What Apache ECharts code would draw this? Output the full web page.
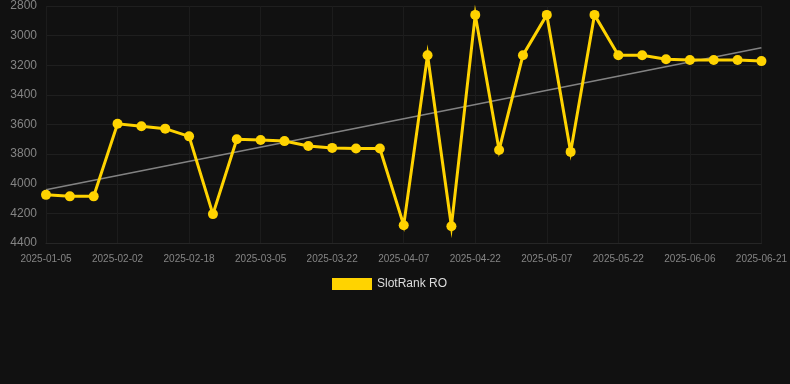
<!DOCTYPE html>
<html><head><meta charset="utf-8">
<script src="https://cdn.jsdelivr.net/npm/echarts@6/dist/echarts.min.js"></script>
<style>html,body{margin:0;padding:0;background:#111111;}#c{width:790px;height:384px;}</style>
</head><body><div id="c"></div>
<script>
const categories = ["2025-01-05","2025-01-14","2025-01-23","2025-02-02","2025-02-07","2025-02-13","2025-02-18","2025-02-23","2025-02-28","2025-03-05","2025-03-11","2025-03-16","2025-03-22","2025-03-27","2025-04-02","2025-04-07","2025-04-12","2025-04-17","2025-04-22","2025-04-27","2025-05-02","2025-05-07","2025-05-12","2025-05-17","2025-05-22","2025-05-27","2025-06-01","2025-06-06","2025-06-11","2025-06-16","2025-06-21"];
const rankValues = [4075,4085,4085,3595,3612,3628,3680,4205,3700,3705,3712,3745,3758,3762,3762,4280,3132,4287,2860,3772,3132,2860,3785,2860,3133,3132,3160,3165,3165,3165,3172];
const trendEnds = [4040, 3082];
const yTicks = {min: 2800, max: 4400, interval: 200};

const trendData = categories.map((c, i) => i === 0 ? trendEnds[0] : (i === categories.length - 1 ? trendEnds[1] : null));

const chart = echarts.init(document.getElementById('c'), null, {renderer: 'canvas'});
chart.setOption({
  backgroundColor: '#111111',
  animation: false,
  grid: {left: 46, right: 28, top: 6, bottom: 141, containLabel: false},
  legend: {
    data: ['SlotRank RO'], top: 273, left: 327,
    itemWidth: 40, itemHeight: 12, icon: 'rect', itemGap: 10,
    textStyle: {color: '#dddddd', fontSize: 12, fontFamily: 'Liberation Sans, Arial, sans-serif'}
  },
  xAxis: {
    type: 'category', data: categories, boundaryGap: false,
    axisLine: {show: true, lineStyle: {color: '#262626'}},
    axisTick: {show: false},
    axisLabel: {interval: 2, color: '#858585', fontSize: 10, margin: 11, fontFamily: 'Liberation Sans, Arial, sans-serif'},
    splitLine: {show: true, interval: 2, lineStyle: {color: '#1c1c1c', width: 1}}
  },
  yAxis: {
    type: 'value', inverse: true, min: yTicks.min, max: yTicks.max, interval: yTicks.interval,
    axisLine: {show: false}, axisTick: {show: false},
    axisLabel: {color: '#858585', fontSize: 12, margin: 9, formatter: v => String(v), fontFamily: 'Liberation Sans, Arial, sans-serif'},
    splitLine: {lineStyle: {color: '#1f1f1f', width: 1}}
  },
  series: [
    {
      name: 'Trend', type: 'line', data: trendData, connectNulls: true,
      symbol: 'none', lineStyle: {color: 'rgba(150,150,150,0.85)', width: 1.5},
      z: 1, silent: true
    },
    {
      name: 'SlotRank RO', type: 'line', data: rankValues,
      symbol: 'circle', symbolSize: 10,
      itemStyle: {color: '#FFD300'},
      lineStyle: {color: '#FFD300', width: 3, join: 'miter'},
      z: 2
    }
  ]
});
</script></body></html>
